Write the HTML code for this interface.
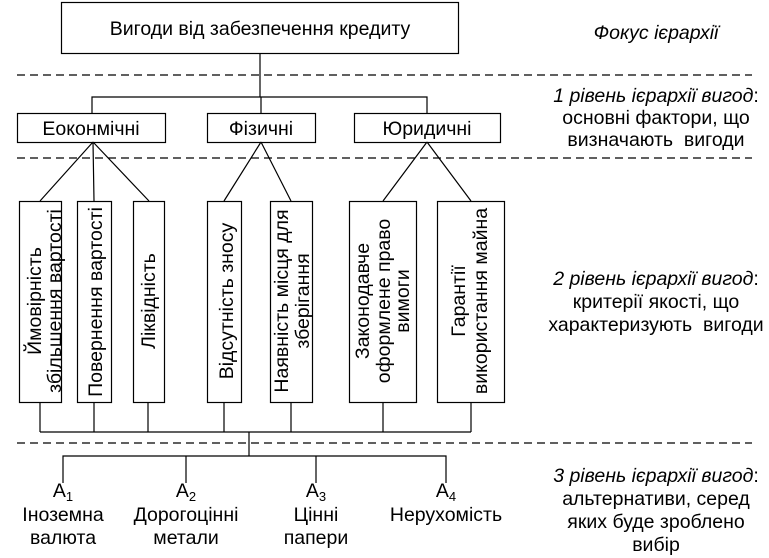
<!DOCTYPE html>
<html><head><meta charset="utf-8"><style>
body{margin:0;background:#fff}
svg{display:block}
text{font-family:"Liberation Sans",sans-serif;font-size:19.5px;fill:#000}
.i{font-style:italic}
</style></head><body>
<svg width="769" height="558" viewBox="0 0 769 558" xmlns="http://www.w3.org/2000/svg">
<g stroke="#000" stroke-width="1.2" fill="none">
<rect x="61.5" y="2.5" width="397" height="51"/>
<g stroke-dasharray="8,5">
<line x1="17" y1="75" x2="752" y2="75"/>
<line x1="17" y1="158" x2="752" y2="158"/>
<line x1="17" y1="443" x2="752" y2="443"/>
</g>
<path d="M260 54V97M92 113V97H427V113M261 97V113"/>
<rect x="17.5" y="113.5" width="148" height="29"/>
<rect x="207.5" y="113.5" width="108" height="29"/>
<rect x="354.5" y="113.5" width="146" height="29"/>
<path d="M93 142L40 201M93 142L94 201M93 142L149 201M261 142L224 201M261 142L291 201M427 142L383 201M427 142L471 201"/>
<rect x="19.5" y="201.5" width="42" height="201"/>
<rect x="77.5" y="201.5" width="34" height="201"/>
<rect x="133.5" y="201.5" width="31" height="201"/>
<rect x="207.5" y="201.5" width="34" height="201"/>
<rect x="270.5" y="201.5" width="42" height="201"/>
<rect x="349.5" y="201.5" width="67" height="201"/>
<rect x="437.5" y="201.5" width="67" height="201"/>
<path d="M40 402V432M94 402V432M148 402V432M224 402V432M291 402V432M383 402V432M471 402V432M40 432H471M249 432V456M63 483V456H446V483M186 456V483M316 456V483"/>
</g>
<text x="260" y="35" text-anchor="middle">Вигоди від забезпечення кредиту</text>
<text x="91" y="135" text-anchor="middle">Еоконмічні</text>
<text x="261" y="135" text-anchor="middle">Фізичні</text>
<text x="427" y="135" text-anchor="middle">Юридичні</text>
<g text-anchor="middle">
<text transform="translate(41,301) rotate(-90)">Ймовірність</text>
<text transform="translate(61,301) rotate(-90)">збільшення вартості</text>
<text transform="translate(102,302) rotate(-90)">Повернення вартості</text>
<text transform="translate(155,301) rotate(-90)">Ліквідність</text>
<text transform="translate(233,301) rotate(-90)">Відсутність зносу</text>
<text transform="translate(288,301) rotate(-90)">Наявність місця для</text>
<text transform="translate(309,301) rotate(-90)">зберігання</text>
<text transform="translate(369,301) rotate(-90)">Законодавче</text>
<text transform="translate(390,301) rotate(-90)">оформлене право</text>
<text transform="translate(409,301) rotate(-90)">вимоги</text>
<text transform="translate(465,301) rotate(-90)">Гарантії</text>
<text transform="translate(487,301) rotate(-90)">використання майна</text>
</g>
<g text-anchor="middle">
<text x="63" y="497">А<tspan font-size="13" dy="4">1</tspan></text>
<text x="63" y="521">Іноземна</text>
<text x="63" y="544">валюта</text>
<text x="186" y="497">А<tspan font-size="13" dy="4">2</tspan></text>
<text x="186" y="521">Дорогоцінні</text>
<text x="186" y="544">метали</text>
<text x="316" y="497">А<tspan font-size="13" dy="4">3</tspan></text>
<text x="316" y="521">Цінні</text>
<text x="316" y="544">папери</text>
<text x="446" y="497">А<tspan font-size="13" dy="4">4</tspan></text>
<text x="446" y="521">Нерухомість</text>
</g>
<g text-anchor="middle">
<text x="656" y="39" class="i">Фокус ієрархії</text>
<text x="656" y="102"><tspan class="i">1 рівень ієрархії вигод</tspan>:</text>
<text x="656" y="124">основні фактори, що</text>
<text x="656" y="146">визначають&#160; вигоди</text>
<text x="656" y="285"><tspan class="i">2 рівень ієрархії вигод</tspan>:</text>
<text x="656" y="308">критерії якості, що</text>
<text x="656" y="331">характеризують&#160; вигоди</text>
<text x="656" y="482"><tspan class="i">3 рівень ієрархії вигод</tspan>:</text>
<text x="656" y="505">альтернативи, серед</text>
<text x="656" y="528">яких буде зроблено</text>
<text x="656" y="551">вибір</text>
</g>
</svg>
</body></html>
